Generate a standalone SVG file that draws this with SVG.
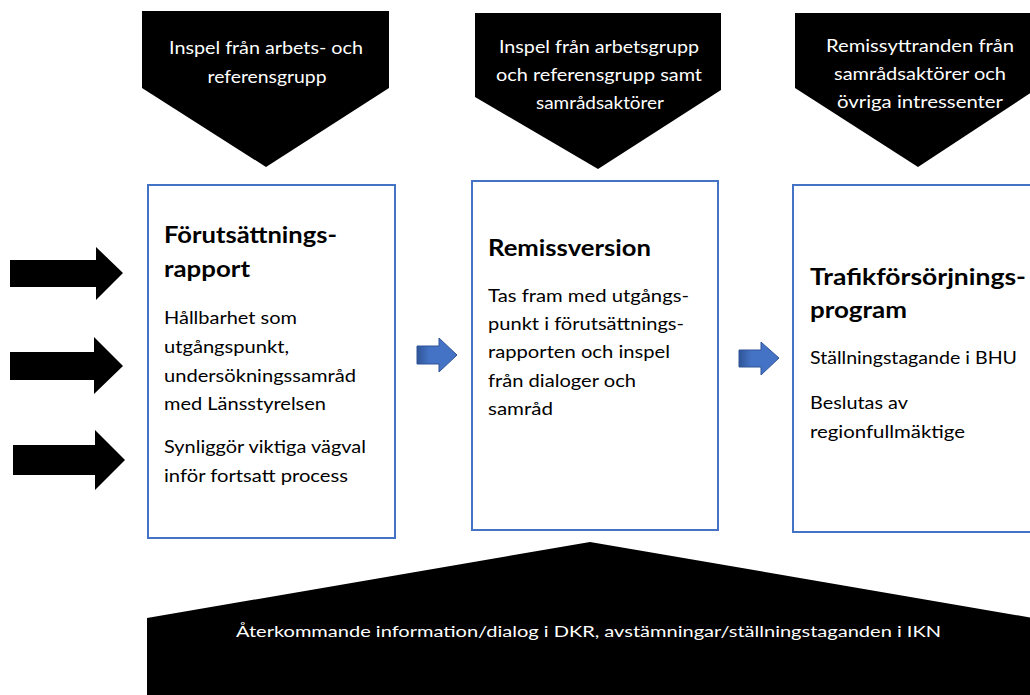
<svg xmlns="http://www.w3.org/2000/svg" width="1030" height="695" viewBox="0 0 1030 695">
<style>
.blk{fill:#000}
.box{fill:#fff;stroke:#4472C4;stroke-width:2}
.wt{fill:#fff;font-family:Lato,"Open Sans",sans-serif;font-size:17px;text-anchor:middle}
.ttl{fill:#000;font-family:Lato,"Open Sans",sans-serif;font-size:22px;font-weight:bold}
.bd{fill:#000;font-family:Lato,"Open Sans",sans-serif;font-size:17px}
.bot{fill:#fff;font-family:Lato,"Open Sans",sans-serif;font-size:15px}
.barr{stroke:#2F5597;stroke-width:1}
</style>
<defs>
<linearGradient id="bg" x1="0" x2="1" y1="0" y2="0">
<stop offset="0" stop-color="#2F5597"/>
<stop offset="0.3" stop-color="#4472C4"/>
<stop offset="1" stop-color="#4472C4"/>
</linearGradient>
</defs>

<g id="input1">
<polygon class="blk" points="142,11 389,11 389,88 266,167 142,88"/>
<text class="wt" x="266" y="54" textLength="194" lengthAdjust="spacingAndGlyphs">Inspel från arbets- och</text>
<text class="wt" x="267" y="83" textLength="119" lengthAdjust="spacingAndGlyphs">referensgrupp</text>
</g>

<g id="input2">
<polygon class="blk" points="475,13 721,13 721,90 598,169 475,97"/>
<text class="wt" x="599" y="53" textLength="200" lengthAdjust="spacingAndGlyphs">Inspel från arbetsgrupp</text>
<text class="wt" x="599" y="81" textLength="206" lengthAdjust="spacingAndGlyphs">och referensgrupp  samt</text>
<text class="wt" x="600" y="109" textLength="128" lengthAdjust="spacingAndGlyphs">samrådsaktörer</text>
</g>

<g id="input3">
<polygon class="blk" points="795,13 1041,13 1041,86 918,167 795,88"/>
<text class="wt" x="920" y="52" textLength="188" lengthAdjust="spacingAndGlyphs">Remissyttranden  från</text>
<text class="wt" x="920" y="80" textLength="172" lengthAdjust="spacingAndGlyphs">samrådsaktörer  och</text>
<text class="wt" x="920" y="108" textLength="166" lengthAdjust="spacingAndGlyphs">övriga  intressenter</text>
</g>

<g id="box1">
<rect class="box" x="148" y="185" width="247" height="353"/>
<text class="ttl" x="164" y="243" textLength="173" lengthAdjust="spacingAndGlyphs">Förutsättnings-</text>
<text class="ttl" x="164" y="277" textLength="86" lengthAdjust="spacingAndGlyphs">rapport</text>
<text class="bd" x="164" y="324" textLength="133" lengthAdjust="spacingAndGlyphs">Hållbarhet som</text>
<text class="bd" x="164" y="353" textLength="125" lengthAdjust="spacingAndGlyphs">utgångspunkt,</text>
<text class="bd" x="164" y="382" textLength="192" lengthAdjust="spacingAndGlyphs">undersökningssamråd</text>
<text class="bd" x="164" y="410" textLength="162" lengthAdjust="spacingAndGlyphs">med Länsstyrelsen</text>
<text class="bd" x="164" y="453" textLength="202" lengthAdjust="spacingAndGlyphs">Synliggör viktiga vägval</text>
<text class="bd" x="164" y="482" textLength="184" lengthAdjust="spacingAndGlyphs">inför fortsatt process</text>
</g>

<g id="box2">
<rect class="box" x="472" y="181" width="246" height="349"/>
<text class="ttl" x="488" y="256" textLength="163" lengthAdjust="spacingAndGlyphs">Remissversion</text>
<text class="bd" x="488" y="302" textLength="201" lengthAdjust="spacingAndGlyphs">Tas fram med utgångs-</text>
<text class="bd" x="488" y="330" textLength="196" lengthAdjust="spacingAndGlyphs">punkt i förutsättnings-</text>
<text class="bd" x="488" y="358" textLength="182" lengthAdjust="spacingAndGlyphs">rapporten och inspel</text>
<text class="bd" x="488" y="387" textLength="148" lengthAdjust="spacingAndGlyphs">från dialoger och</text>
<text class="bd" x="488" y="415" textLength="65" lengthAdjust="spacingAndGlyphs">samråd</text>
</g>

<g id="box3">
<rect class="box" x="793" y="185" width="250" height="347"/>
<text class="ttl" x="810" y="285" textLength="216" lengthAdjust="spacingAndGlyphs">Trafikförsörjnings-</text>
<text class="ttl" x="810" y="318" textLength="97" lengthAdjust="spacingAndGlyphs">program</text>
<text class="bd" x="810" y="364" textLength="207" lengthAdjust="spacingAndGlyphs">Ställningstagande i BHU</text>
<text class="bd" x="810" y="409" textLength="98" lengthAdjust="spacingAndGlyphs">Beslutas av</text>
<text class="bd" x="810" y="438" textLength="155" lengthAdjust="spacingAndGlyphs">regionfullmäktige</text>
</g>

<g id="feedback">
<polygon class="blk" points="147,618 590,542 1033,618 1033,700 147,700"/>
<text class="bot" x="236" y="637" textLength="705" lengthAdjust="spacingAndGlyphs">Återkommande  information/dialog  i DKR, avstämningar/ställningstaganden  i IKN</text>
</g>

<g id="connectors">
<polygon class="blk" points="10,260 96,260 96,247 123,273 96,300 96,287 10,287"/>
<polygon class="blk" points="10,352 94,352 94,337 123,366 94,394 94,380 10,380"/>
<polygon class="blk" points="13,445 95,445 95,430 125,460 95,490 95,475 13,475"/>
<polygon class="barr" style="fill:url(#bg)" points="417,346 439,346 439,338 457,355 439,372 439,364 417,364"/>
<polygon class="barr" style="fill:url(#bg)" points="739,350 761,350 761,342 779,358 761,375 761,367 739,367"/>
</g>
</svg>
